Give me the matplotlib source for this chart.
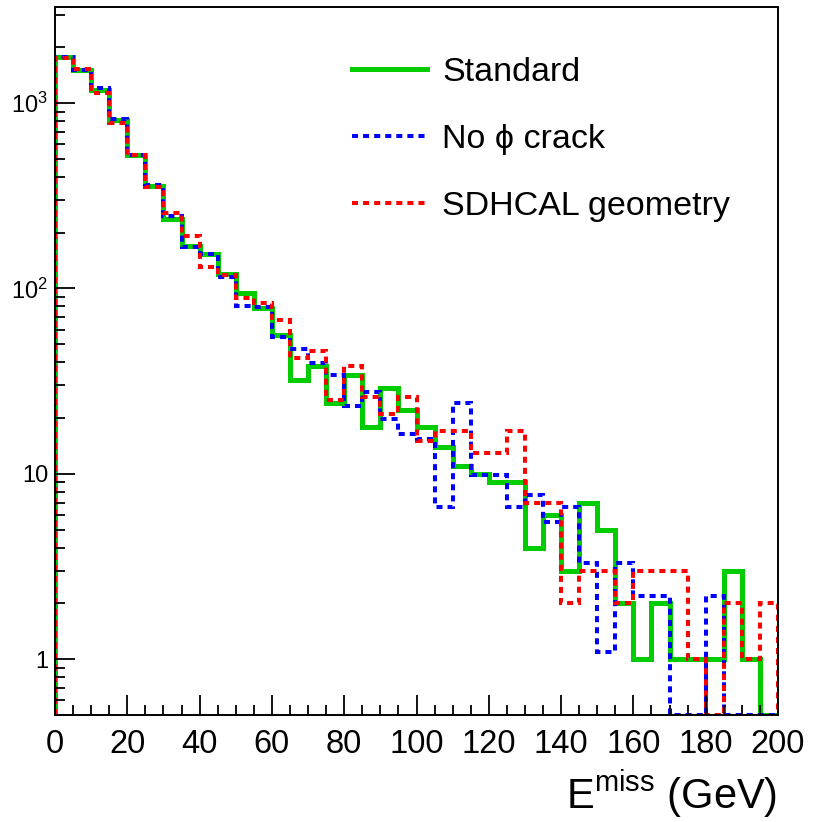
import numpy as np
import matplotlib
matplotlib.use("Agg")
import matplotlib.pyplot as plt
from matplotlib.lines import Line2D
from matplotlib.ticker import FixedLocator, LogLocator, FuncFormatter

plt.rcParams['font.family'] = ['Liberation Sans', 'DejaVu Sans']
plt.rcParams['mathtext.fontset'] = 'custom'
plt.rcParams['mathtext.rm'] = 'Liberation Sans'
plt.rcParams['mathtext.it'] = 'Liberation Sans:italic'

# 5 GeV bins from 0 to 200
edges = np.arange(0, 205, 5)

standard = [1782, 1514, 1180, 806, 526, 358, 236, 169, 154, 120,
            94, 78, 56, 32, 38, 24, 34, 18, 29, 22,
            18, 14, 11, 10, 9, 9, 4, 6, 3, 7,
            5, 2, 1, 2, 1, 1, 1, 3, 1, 0]
no_crack = [1780, 1500, 1205, 820, 523, 362, 246, 167, 154, 115,
            80.3, 79.2, 55, 47.3, 39.6, 34.1, 23.1, 27.5, 19.8, 16.5,
            15.4, 6.6, 24.2, 9.9, 9.9, 6.6, 7.7, 5.5, 6.6, 3.3,
            1.1, 3.3, 2.2, 2.2, 0, 0, 2.2, 0, 0, 0]
sdhcal = [1750, 1531, 1132, 785, 523, 352, 255, 191, 131, 118,
          89, 84, 68, 42, 46, 25, 38, 26, 21, 26,
          15, 17, 17, 13, 13, 17, 7, 7, 2, 3,
          3, 2, 3, 3, 3, 1, 0, 2, 1, 2]

labels = ['Standard', 'No \u03d5 crack', 'SDHCAL geometry']
colors = ['#00cc00', '#0000ff', '#ff0000']

y_lo, y_hi = 0.5, 3300

fig = plt.figure(figsize=(8.15, 8.22), dpi=100)
ax = fig.add_axes([55/815, 1-715/822, 723/815, 708/822])

dots = (0, (1.5, 1.25))
styles = [dict(lw=3.6, ls='-'), dict(lw=2.9, ls=dots), dict(lw=2.9, ls=dots)]

for vals, c, st in zip([standard, no_crack, sdhcal], colors, styles):
    v = np.maximum(np.array(vals, dtype=float), y_lo)
    ax.stairs(v, edges, baseline=y_lo, color=c, linewidth=st['lw'],
              linestyle=st['ls'], fill=False)

ax.set_yscale('log')
ax.set_xlim(0, 200)
ax.set_ylim(y_lo, y_hi)

ax.xaxis.set_major_locator(FixedLocator(np.arange(0, 201, 20)))
ax.xaxis.set_minor_locator(FixedLocator(np.arange(0, 201, 5)))
ax.yaxis.set_major_locator(FixedLocator([1, 10, 100, 1000]))
ax.yaxis.set_minor_locator(LogLocator(base=10, subs=np.arange(2, 10), numticks=20))

def ylab(v, pos):
    if v == 1:
        return '1'
    if v == 10:
        return '10'
    return r'$\mathregular{10^{%d}}$' % int(round(np.log10(v)))

ax.yaxis.set_major_formatter(FuncFormatter(ylab))
ax.yaxis.set_minor_formatter(FuncFormatter(lambda v, p: ''))

ax.tick_params(which='both', direction='in', top=False, right=False, width=1.3, color='black')
ax.tick_params(which='major', length=14.4)
ax.tick_params(which='minor', length=7.5)
ax.tick_params(axis='x', which='major', labelsize=23.5, pad=10)
ax.tick_params(axis='y', which='major', labelsize=17, pad=5)

for s in ax.spines.values():
    s.set_linewidth(1.4)
    s.set_color('black')

ax.set_xlabel(r'E$^{\mathregular{miss}}$ (GeV)', fontsize=30, loc='right')
ax.xaxis.label.set_va('baseline')
ax.xaxis.set_label_coords(0.999, -(809-715)/708)

handles = [Line2D([], [], color=c, linewidth=st['lw'], linestyle=st['ls'])
           for c, st in zip(colors, styles)]
ax.legend(handles, labels, loc='upper left', frameon=False, fontsize=24.5,
          bbox_to_anchor=(352/815, 1-57/822), bbox_transform=fig.transFigure,
          borderpad=0, borderaxespad=0, handlelength=2.2, handletextpad=0.45,
          labelspacing=1.06)

fig.savefig('out.png', dpi=100)
